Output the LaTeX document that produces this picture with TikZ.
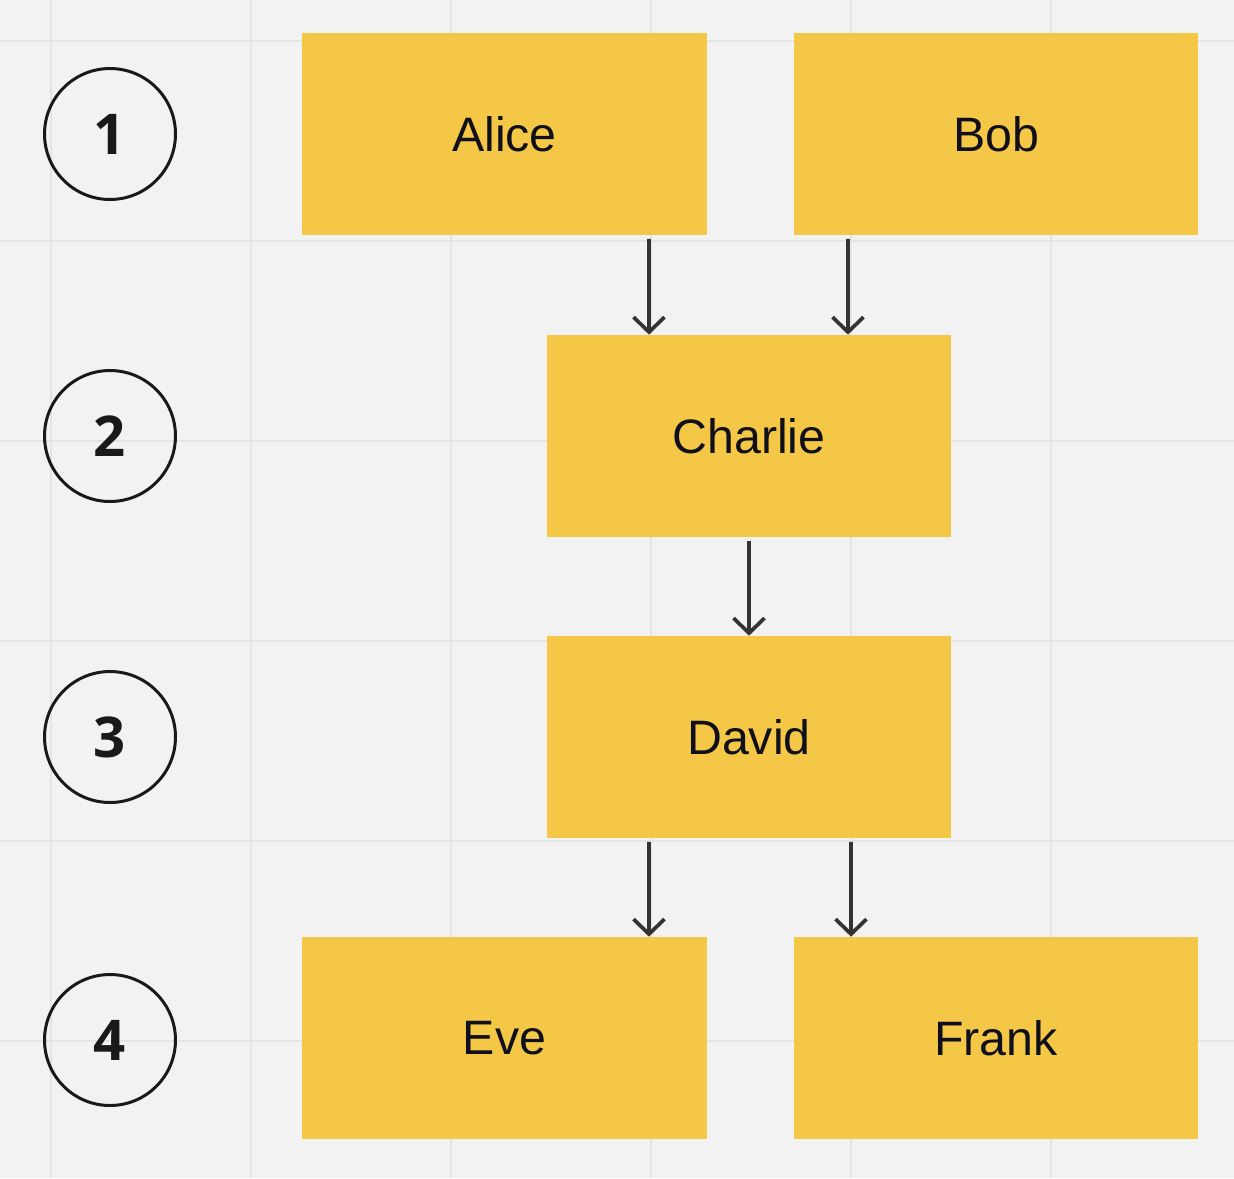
\documentclass[tikz,border=0pt]{standalone}
\usepackage{fontspec}
\setmainfont{Liberation Sans}
\newfontfamily\numfont{Open Sans}
\usetikzlibrary{arrows.meta}

\definecolor{bgcol}{HTML}{F2F2F2}
\definecolor{gridcol}{HTML}{E4E4E4}
\definecolor{boxcol}{HTML}{F5C746}
\definecolor{linkcol}{HTML}{333333}
\definecolor{textcol}{HTML}{10101C}

\tikzset{
	person/.style={fill=boxcol, minimum width=8.1cm, minimum height=4.04cm,
		inner sep=0pt, text=textcol, font=\fontsize{27.5}{32}\selectfont},
	level/.style={circle, draw=black!90, line width=1.7pt, minimum size=2.62cm,
		inner sep=0pt, text=black!90, font=\numfont\bfseries\fontsize{32}{36}\selectfont},
	link/.style={draw=linkcol, line width=2.1pt,
		-{Straight Barb[length=0.3cm, width=0.62cm, line width=2.1pt]}},
}

\begin{document}
\begin{tikzpicture}[x=0.02cm, y=-0.02cm]
		\useasboundingbox [fill=bgcol] (0, 0) rectangle (1234, 1178);

		% grid
		\foreach \i in {0, ..., 5} {
			\draw [gridcol, line width=1.2pt] (51 + 200*\i, 0) -- (51 + 200*\i, 1178);
			\draw [gridcol, line width=1.2pt] (0, 41 + 200*\i) -- (1234, 41 + 200*\i);
		}

		% generations
		\foreach \i/\y in {1/134, 2/436, 3/737, 4/1040} {
			\node [level] (lvl\i) at (110, \y) {\i};
		}

		\node [person] (alice) at (504.5, 134) {Alice};
		\node [person] (bob) at (996, 134) {Bob};
		\node [person] (charlie) at (749, 436) {Charlie};
		\node [person] (david) at (749, 737) {David};
		\node [person] (eve) at (504.5, 1038) {Eve};
		\node [person] (frank) at (996, 1038) {Frank};

		\draw [link, shorten <=2pt] ([xshift=2.89cm]alice.south) -- ([xshift=-2cm]charlie.north);
		\draw [link, shorten <=2pt] ([xshift=-2.96cm]bob.south) -- ([xshift=1.98cm]charlie.north);
		\draw [link, shorten <=2pt] (charlie) -- (david);
		\draw [link, shorten <=2pt] ([xshift=-2cm]david.south) -- ([xshift=2.89cm]eve.north);
		\draw [link, shorten <=2pt] ([xshift=2.04cm]david.south) -- ([xshift=-2.9cm]frank.north);
	\end{tikzpicture}
\end{document}
